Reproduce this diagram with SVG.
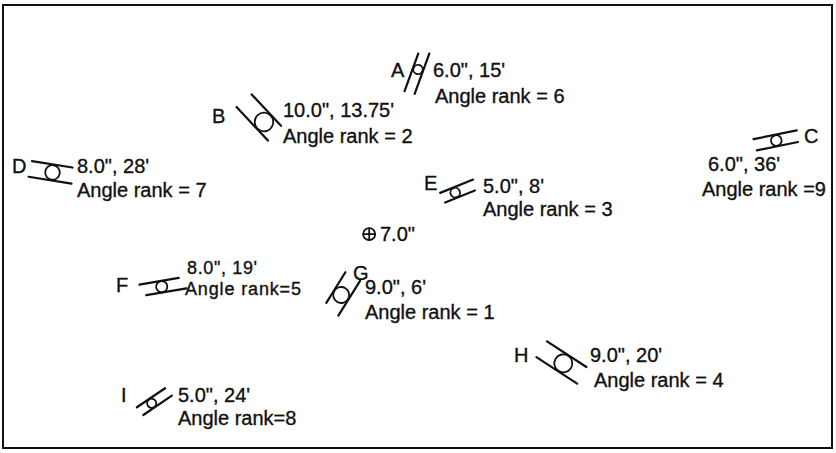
<svg xmlns="http://www.w3.org/2000/svg" width="836" height="453" viewBox="0 0 836 453">
<style>
.t{font-family:"Liberation Sans",Arial,sans-serif;font-size:20px;fill:#111;stroke:#111;stroke-width:0.35}
.sm{font-size:18px}
.s line{stroke:#111;stroke-width:2.2;stroke-linecap:round}
.s circle{fill:none;stroke:#111;stroke-width:1.8}
.frame{fill:#fff;stroke:#111;stroke-width:2}
</style>
<rect class="frame" x="3" y="5" width="829" height="443"/>
<g id="connectors"/>
<g id="node-A">
<g class="s" transform="translate(418,69.5) rotate(-70)"><line x1="-25" y1="-5.2" x2="15" y2="-5.2"/><line x1="-24" y1="5.2" x2="19" y2="5.2"/><circle r="4.7"/></g>
<text class="t" x="391" y="77">A</text>
<text class="t" x="433" y="77">6.0", 15'</text>
<text class="t" x="435" y="103">Angle rank = 6</text>
</g>
<g id="node-B">
<g class="s" transform="translate(264,122) rotate(47)"><line x1="-28.6" y1="-9.8" x2="14.4" y2="-9.8"/><line x1="-29.7" y1="9.8" x2="16.3" y2="9.8"/><circle r="9.3"/></g>
<text class="t" x="212" y="123">B</text>
<text class="t" x="283" y="117">10.0", 13.75'</text>
<text class="t" x="283" y="143">Angle rank = 2</text>
</g>
<g id="node-D">
<g class="s" transform="translate(51.5,172.3) rotate(9)"><line x1="-21" y1="-8" x2="20" y2="-8"/><line x1="-22" y1="8" x2="21.5" y2="8"/><circle cx="1" r="7.3"/></g>
<text class="t" x="12" y="173">D</text>
<text class="t" x="77" y="173">8.0", 28'</text>
<text class="t" x="77" y="197">Angle rank = 7</text>
</g>
<g id="node-E">
<g class="s" transform="translate(458,191.5) rotate(-22)"><line x1="-17" y1="-5.4" x2="18.5" y2="-5.4"/><line x1="-16" y1="5.4" x2="16" y2="5.4"/><circle cx="-3" r="4.8"/></g>
<text class="t" x="424" y="190">E</text>
<text class="t" x="483" y="193">5.0", 8'</text>
<text class="t" x="483" y="216">Angle rank = 3</text>
</g>
<g id="node-C">
<g class="s" transform="translate(776.3,140.5) rotate(-11.5)"><line x1="-22" y1="-5.8" x2="22" y2="-5.8"/><line x1="-21" y1="5.8" x2="21" y2="5.8"/><circle r="5.3"/></g>
<text class="t" x="804" y="143">C</text>
<text class="t" x="708" y="171">6.0", 36'</text>
<text class="t" x="702" y="196">Angle rank =9</text>
</g>
<g id="node-center">
<g class="s"><circle cx="369.2" cy="234.2" r="6"/><line x1="363.2" y1="234.2" x2="375.2" y2="234.2" style="stroke-width:1.8"/><line x1="369.2" y1="228.2" x2="369.2" y2="240.2" style="stroke-width:1.8"/></g>
<text class="t" x="380" y="241">7.0"</text>
</g>
<g id="node-F">
<g class="s" transform="translate(162.7,286.5) rotate(-9.7)"><line x1="-22.7" y1="-5.8" x2="17.3" y2="-5.8"/><line x1="-17.7" y1="5.8" x2="23.3" y2="5.8"/><circle cx="-1" r="5.6"/></g>
<text class="t" x="116" y="292">F</text>
<text class="t sm" x="187" y="274" textLength="70" lengthAdjust="spacing">8.0", 19'</text>
<text class="t sm" x="185" y="295" textLength="116" lengthAdjust="spacing">Angle rank=5</text>
</g>
<g id="node-G">
<g class="s" transform="translate(341.2,295) rotate(-58)"><line x1="-14.5" y1="-8.5" x2="21.5" y2="-8.5"/><line x1="-19" y1="8.5" x2="22" y2="8.5"/><circle r="8"/></g>
<text class="t" x="353" y="280">G</text>
<text class="t" x="365" y="294">9.0", 6'</text>
<text class="t" x="365" y="319">Angle rank = 1</text>
</g>
<g id="node-H">
<g class="s" transform="translate(563.3,363.3) rotate(33)"><line x1="-25.6" y1="-9.5" x2="21.4" y2="-9.5"/><line x1="-25.9" y1="9.5" x2="22.7" y2="9.5"/><circle r="9"/></g>
<text class="t" x="514" y="362">H</text>
<text class="t" x="590" y="362">9.0", 20'</text>
<text class="t" x="594" y="387">Angle rank = 4</text>
</g>
<g id="node-I">
<g class="s" transform="translate(151.7,403.3) rotate(-34)"><line x1="-14.5" y1="-5" x2="19.5" y2="-5"/><line x1="-13.5" y1="5" x2="21" y2="5"/><circle r="4.6"/></g>
<text class="t" x="121" y="402">I</text>
<text class="t" x="178" y="402">5.0", 24'</text>
<text class="t" x="178" y="425">Angle rank=8</text>
</g>
</svg>
